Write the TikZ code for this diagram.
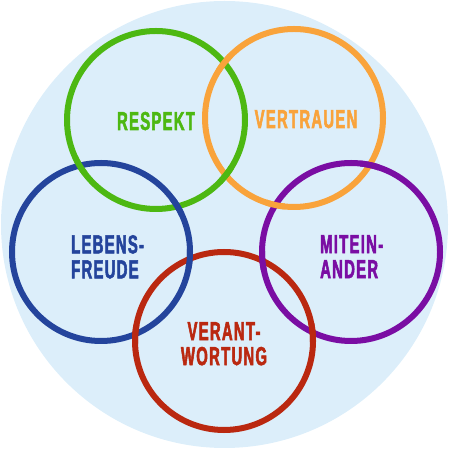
\documentclass[tikz,border=0pt]{standalone}
\usepackage{fontspec}
\newfontfamily\labfont{Liberation Sans}[UprightFont=* Bold,FakeStretch=0.57,LetterSpace=5,FakeBold=2]
\definecolor{bgblue}{HTML}{DCEEFA}
\definecolor{cgreen}{HTML}{4DB812}
\definecolor{corange}{HTML}{F9A33B}
\definecolor{cblue}{HTML}{24449C}
\definecolor{cpurple}{HTML}{7A0DA3}
\definecolor{cred}{HTML}{BA2810}
\begin{document}
\begin{tikzpicture}[x=1pt,y=1pt,
  ring/.style={line width=6pt,draw=#1},
  lab/.style={inner sep=0pt,text=#1,font=\labfont\fontsize{26}{25}\selectfont}]
\useasboundingbox (0,0) rectangle (449,449);
% background disc
\fill[bgblue] (224.5,224.5) circle (223.5);
% ring centres (image y flipped)
\coordinate (G) at (156,329);
\coordinate (O) at (294,331);
\coordinate (B) at (101,197);
\coordinate (P) at (351,197);
\coordinate (R) at (224,108);
\def\rr{89}
% rings
\draw[ring=corange] (O) circle (\rr);
\draw[ring=cgreen] (G) circle (\rr);
\draw[ring=cblue] (B) circle (\rr);
\draw[ring=cpurple] (P) circle (\rr);
\draw[ring=cred] (R) circle (\rr);
% crossing points
\coordinate (goT) at (224.2,386.2);
\coordinate (goB) at (225.8,273.8);
\coordinate (gbL) at (79.6,283.4);
\coordinate (gbR) at (177.4,242.6);
\coordinate (opL) at (275.4,244);
\coordinate (opR) at (369.6,284);
\coordinate (brT) at (189.8,190.2);
\coordinate (brB) at (135.2,114.8);
\coordinate (prT) at (262.4,188.4);
\coordinate (prB) at (312.6,116.6);
% interlacing: redraw the ring that lies on top at each crossing
\begin{scope}\clip (goT) circle (10); \draw[ring=corange] (O) circle (\rr); \end{scope}
\begin{scope}\clip (goB) circle (10); \draw[ring=cgreen] (G) circle (\rr); \end{scope}
\begin{scope}\clip (gbL) circle (10); \draw[ring=cgreen] (G) circle (\rr); \end{scope}
\begin{scope}\clip (gbR) circle (10); \draw[ring=cblue] (B) circle (\rr); \end{scope}
\begin{scope}\clip (opL) circle (10); \draw[ring=corange] (O) circle (\rr); \end{scope}
\begin{scope}\clip (opR) circle (10); \draw[ring=cpurple] (P) circle (\rr); \end{scope}
\begin{scope}\clip (brT) circle (10); \draw[ring=cblue] (B) circle (\rr); \end{scope}
\begin{scope}\clip (brB) circle (10); \draw[ring=cred] (R) circle (\rr); \end{scope}
\begin{scope}\clip (prT) circle (10); \draw[ring=cpurple] (P) circle (\rr); \end{scope}
\begin{scope}\clip (prB) circle (10); \draw[ring=cred] (R) circle (\rr); \end{scope}
% labels
\node[lab=cgreen,anchor=base] (respekt) at (156,319) {RESPEKT};
\node[lab=corange,anchor=base] (vertrauen) at (306,321) {VERTRAUEN};
\node[lab=cblue,anchor=north west,align=left] (lebensfreude) at (71,214) {LEBENS-\\FREUDE};
\node[lab=cpurple,anchor=north west,align=left] (miteinander) at (320,214) {MITEIN-\\ANDER};
\node[lab=cred,anchor=north,align=center] (verantwortung) at (224,127) {VERANT-\\WORTUNG};
\end{tikzpicture}
\end{document}
